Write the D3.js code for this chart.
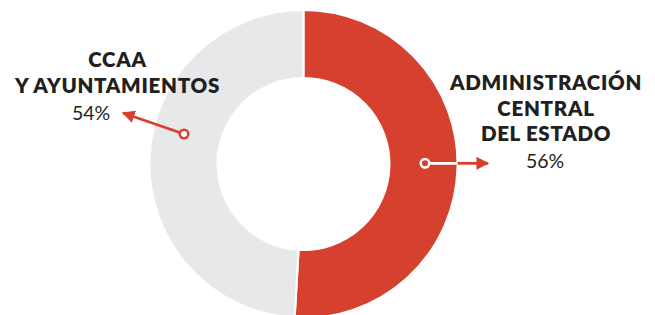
<!DOCTYPE html>
<html>
<head>
<meta charset="utf-8">
<script src="https://cdn.jsdelivr.net/npm/d3@7"></script>
<style>
  html, body { margin: 0; padding: 0; background: #ffffff; }
  svg { display: block; }
</style>
</head>
<body>
<svg id="chart" width="655" height="315"></svg>
<script>
// ---- data ----
const categories = ["ADMINISTRACIÓN CENTRAL DEL ESTADO", "CCAA Y AYUNTAMIENTOS"];
const values = [56, 54];
const labelLines = [["ADMINISTRACIÓN", "CENTRAL", "DEL ESTADO"], ["CCAA", "Y AYUNTAMIENTOS"]];
const valueLabels = ["56%", "54%"];
const colors = ["#d5402f", "#e7e8ea"];

// ---- layout ----
const W = 655, H = 315;
const cx = 303.5, cy = 164, outerR = 154, innerR = 86;
const svg = d3.select("#chart");
const font = "Lato, 'DejaVu Sans', sans-serif";
const dark = "#231f20";
const red = colors[0];

const pie = d3.pie().sort(null).value(d => d)(values);
const arc = d3.arc().innerRadius(innerR).outerRadius(outerR);

const g = svg.append("g").attr("transform", `translate(${cx},${cy})`);
g.selectAll("path.slice").data(pie).join("path")
  .attr("class", "slice")
  .attr("d", arc)
  .attr("fill", (d, i) => colors[i])
  .attr("stroke", "#fff")
  .attr("stroke-width", 2);

// arrow markers
const defs = svg.append("defs");
defs.append("marker").attr("id", "head")
  .attr("viewBox", "0 0 10 10").attr("refX", 9).attr("refY", 5)
  .attr("markerWidth", 4.6).attr("markerHeight", 5.2)
  .attr("markerUnits", "strokeWidth")
  .attr("orient", "auto")
  .append("path").attr("d", "M0,0 L10,5 L0,10 Z").attr("fill", red);

// right annotation (Administración central) -- within red slice line is white
{
  const y = 163.3, x0 = cx + 121.5, xEdge = cx + outerR, xTip = 488;
  svg.append("line").attr("x1", x0).attr("y1", y).attr("x2", xEdge).attr("y2", y)
    .attr("stroke", "#fff").attr("stroke-width", 2.8);
  svg.append("line").attr("x1", xEdge).attr("y1", y).attr("x2", xTip).attr("y2", y)
    .attr("stroke", red).attr("stroke-width", 2.8).attr("marker-end", "url(#head)");
  svg.append("circle").attr("cx", x0).attr("cy", y).attr("r", 4.3)
    .attr("fill", red).attr("stroke", "#fff").attr("stroke-width", 2.5);
}
// left annotation (CCAA)
{
  const x0 = 184, y0 = 134, x1 = 123, y1 = 113;
  svg.append("line").attr("x1", x0).attr("y1", y0).attr("x2", x1).attr("y2", y1)
    .attr("stroke", red).attr("stroke-width", 2.8).attr("marker-end", "url(#head)");
  svg.append("circle").attr("cx", x0).attr("cy", y0).attr("r", 4.3)
    .attr("fill", "#fff").attr("stroke", red).attr("stroke-width", 2.5);
}

// labels
function label(lines, pct, x, y0, pctX, pctY) {
  const t = svg.append("g");
  lines.forEach((s, i) => {
    t.append("text").attr("x", x).attr("y", y0 + i * 25.5)
      .attr("text-anchor", "middle")
      .attr("font-family", font).attr("font-weight", 800)
      .attr("font-size", 20.5).attr("fill", dark)
      .attr("letter-spacing", 0.7)
      .text(s);
  });
  t.append("text").attr("x", pctX).attr("y", pctY)
    .attr("text-anchor", "middle")
    .attr("font-family", font).attr("font-weight", 400)
    .attr("font-size", 19.5).attr("fill", dark)
    .text(pct);
}
label(labelLines[1], valueLabels[1], 117.5, 67, 91, 120);
label(labelLines[0], valueLabels[0], 546, 90, 545, 168);
</script>
</body>
</html>
